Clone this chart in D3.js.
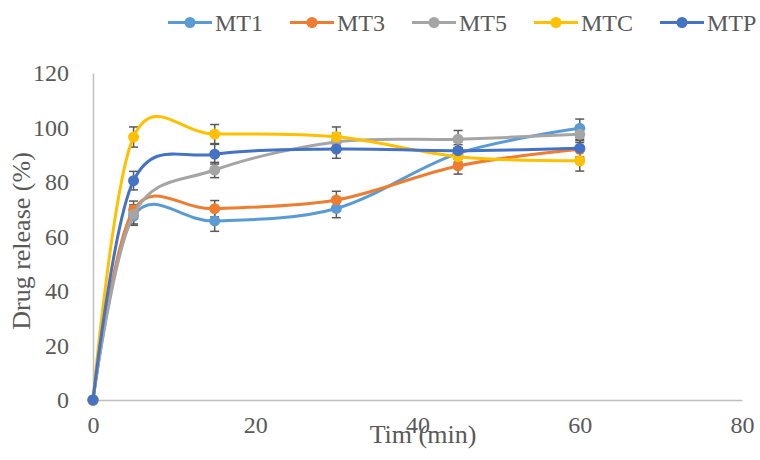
<!DOCTYPE html>
<html><head><meta charset="utf-8">
<script src="https://cdn.jsdelivr.net/npm/d3@7"></script>
<style>body{margin:0;background:#fff}svg{display:block}</style>
</head><body>
<svg id="c" width="760" height="460"></svg>
<script>
const times = [0, 5, 15, 30, 45, 60];
const seriesNames = ["MT1", "MT3", "MT5", "MTC", "MTP"];
const seriesColors = ["#5B9BD5", "#ED7D31", "#A5A5A5", "#FFC000", "#4472C4"];
const mt1 = [0, 67.5, 65.7, 70.3, 90.5, 99.7];
const mt3 = [0, 69.7, 70.2, 73.4, 85.9, 92.0];
const mt5 = [0, 68.1, 84.4, 94.7, 95.7, 97.5];
const mtc = [0, 96.5, 97.6, 96.6, 89.3, 87.8];
const mtp = [0, 80.5, 90.2, 92.1, 91.5, 92.4];
const errMT1 = [0, 3.4, 3.8, 3.4, 3.2, 3.4];
const errMT3 = [0, 3.3, 3.0, 3.2, 3.0, 3.2];
const errMT5 = [0, 3.5, 2.8, 3.2, 3.2, 3.0];
const errMTC = [0, 3.7, 3.5, 3.6, 3.3, 3.8];
const errMTP = [0, 3.4, 3.6, 3.4, 3.2, 3.2];
const xTicks = [0, 20, 40, 60, 80];
const yTicks = [0, 20, 40, 60, 80, 100, 120];

const values = [mt1, mt3, mt5, mtc, mtp];
const errs = [errMT1, errMT3, errMT5, errMTC, errMTP];

const svg = d3.select("#c");
const x = d3.scaleLinear().domain([0, 80]).range([93, 742]);
const y = d3.scaleLinear().domain([0, 120]).range([400, 73]);
const font = "'Liberation Serif','Times New Roman',serif";
const txt = "#595959";

// axes
const xa = svg.append("g").attr("transform", "translate(0,400)")
  .call(d3.axisBottom(x).tickValues(xTicks).tickSize(0).tickPadding(0));
xa.select(".domain").attr("stroke", "#BFBFBF").attr("stroke-width", 1.5);
xa.selectAll("text").attr("font-family", font).attr("font-size", 24).attr("fill", txt)
  .attr("dy", null).attr("y", 33);
const ya = svg.append("g").attr("transform", "translate(93,0)")
  .call(d3.axisLeft(y).tickValues(yTicks).tickSize(0).tickPadding(24));
ya.select(".domain").attr("stroke", "#BFBFBF").attr("stroke-width", 1.5);
ya.selectAll("text").attr("font-family", font).attr("font-size", 24).attr("fill", txt);

svg.append("text").attr("x", 423).attr("y", 443).attr("text-anchor", "middle")
  .attr("font-family", font).attr("font-size", 26).attr("fill", txt).text("Tim (min)");
svg.append("text").attr("transform", "translate(30,241) rotate(-90)").attr("text-anchor", "middle")
  .attr("font-family", font).attr("font-size", 26).attr("fill", txt).text("Drug release (%)");

const line = d3.line().x(d => x(d[0])).y(d => y(d[1])).curve(d3.curveCardinal.tension(0));

// error bars
values.forEach((vals, si) => {
  const g = svg.append("g");
  times.forEach((t, i) => {
    const e = errs[si][i];
    if (!e) return;
    const cx = x(t), y1 = y(vals[i] - e), y2 = y(vals[i] + e);
    g.append("line").attr("x1", cx).attr("x2", cx).attr("y1", y1).attr("y2", y2)
      .attr("stroke", "#595959").attr("stroke-width", 1.5);
    [y1, y2].forEach(yy => g.append("line").attr("x1", cx - 4.5).attr("x2", cx + 4.5)
      .attr("y1", yy).attr("y2", yy).attr("stroke", "#595959").attr("stroke-width", 1.5));
  });
});

// lines and markers
values.forEach((vals, si) => {
  const pts = times.map((t, i) => [t, vals[i]]);
  svg.append("path").attr("d", line(pts)).attr("fill", "none")
    .attr("stroke", seriesColors[si]).attr("stroke-width", 3).attr("stroke-linecap", "round");
  svg.append("g").selectAll("circle").data(pts).join("circle")
    .attr("cx", d => x(d[0])).attr("cy", d => y(d[1])).attr("r", 5.5)
    .attr("fill", seriesColors[si]);
});

// legend
const legX = [168, 290, 412, 534, 660];
seriesNames.forEach((n, i) => {
  const g = svg.append("g").attr("transform", `translate(${legX[i]},22.5)`);
  g.append("line").attr("x1", 0).attr("x2", 44).attr("y1", 0).attr("y2", 0)
    .attr("stroke", seriesColors[i]).attr("stroke-width", 3);
  g.append("circle").attr("cx", 22).attr("cy", 0).attr("r", 5.5).attr("fill", seriesColors[i]);
  g.append("text").attr("x", 47).attr("y", 8.5).attr("font-family", font).attr("font-size", 24)
    .attr("fill", txt).text(n);
});
</script>
</body></html>
